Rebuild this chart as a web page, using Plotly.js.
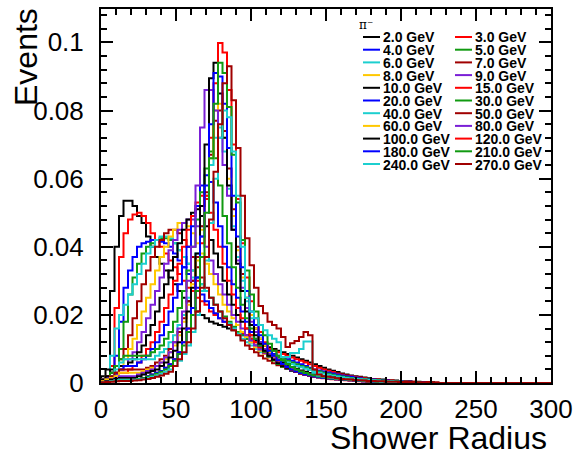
<!DOCTYPE html>
<html><head><meta charset="utf-8">
<script src="https://cdn.plot.ly/plotly-3.0.1.min.js"></script>
<style>body{margin:0;background:#fff}#chart{width:577px;height:456px}</style>
</head><body><div id="chart"></div>
<script>
// Energies (legend labels) and ROOT-like colour cycle
const energies = ['2.0','3.0','4.0','5.0','6.0','7.0','8.0','9.0','10.0','15.0','20.0','30.0','40.0','50.0','60.0','80.0','100.0','120.0','180.0','210.0','240.0','270.0'];
const colors = ['#000000','#ff0000','#0000ff','#119a11','#1ccfcf','#a00000','#ffc800','#7a1fd6',
                '#000000','#ff0000','#0000ff','#119a11','#1ccfcf','#a00000','#ffc800','#7a1fd6',
                '#000000','#ff0000','#0000ff','#119a11','#1ccfcf','#a00000'];
const binWidth = 3; // shower radius bin width

// Normalised event fractions per radius bin (bin i covers [3i, 3i+3))
const e2 = [.002,.004,.027,.040,.049,.0535,.0535,.052,.049,.047,.043,.040,.037,.035,.033,.031,.029,.027,.025,.024,.022,.021,.020,.019,.018,.0175,.017,.0165,.016,.0155,.015,.0145,.014,.013,.0125,.012,.011,.0105,.010,.0095,.009,.0085,.008,.0075,.007,.0065,.006,.0055,.005,.0045,.004,.0036,.0032,.0028,.0025,.0022,.002,.0018,.0016,.0014,.0012,.0011,.001,.0009,.0008,.0007,.0006,.0005,.0005,.0004,.0004,.0003,.0003,.0002];
const e3 = [.001,.002,.005,.022,.037,.044,.048,.0495,.050,.049,.047,.044,.042,.040,.038,.036,.034,.032,.030,.028,.027,.025,.024,.023,.021,.020,.019,.018,.017,.016,.015,.0145,.014,.013,.012,.0115,.011,.010,.0095,.009,.0085,.008,.0075,.007,.0065,.006,.0055,.005,.0045,.004,.0036,.0032,.0028,.0025,.0022,.002,.0018,.0016,.0014,.0012,.0011,.001,.0009,.0008,.0007,.0006,.0005,.0005,.0004,.0004,.0003,.0003,.0002];
const e4 = [.001,.002,.003,.008,.018,.028,.033,.037,.040,.041,.0415,.042,.042,.0415,.041,.040,.038,.036,.034,.032,.030,.028,.026,.024,.022,.0205,.019,.018,.017,.016,.015,.014,.013,.012,.011,.010,.0095,.009,.0085,.008,.0075,.007,.0065,.006,.0055,.005,.0045,.004,.0037,.0034,.0031,.0028,.0025,.0022,.002,.0018,.0016,.0014,.0012,.0011,.001,.0009,.0008,.0007,.0006,.0005,.0005,.0004,.0004,.0003,.0003,.0002];
const e5 = [.001,.002,.003,.005,.010,.018,.026,.031,.035,.038,.040,.041,.042,.0425,.0425,.042,.041,.039,.037,.035,.033,.031,.029,.027,.025,.023,.021,.0195,.018,.0165,.015,.014,.013,.012,.011,.010,.009,.0085,.008,.0075,.007,.0065,.006,.0055,.005,.0046,.0042,.0038,.0034,.003,.0027,.0024,.0021,.0019,.0017,.0015,.0013,.0012,.0011,.001,.0009,.0008,.0007,.0006,.0005,.0005,.0004,.0004,.0003,.0003,.0002];
const e6 = [.001,.002,.008,.016,.020,.023,.026,.029,.032,.035,.038,.040,.042,.043,.043,.0425,.041,.039,.037,.035,.033,.031,.029,.027,.025,.023,.021,.019,.0175,.016,.0145,.013,.012,.011,.010,.009,.0085,.008,.0075,.007,.0065,.006,.0055,.005,.0046,.0042,.0038,.0034,.003,.0027,.0024,.0021,.0019,.0017,.0015,.0013,.0012,.0011,.001,.0009,.0008,.0007,.0006,.0005,.0005,.0004,.0004,.0003,.0003,.0002];
const e7 = [.001,.002,.003,.005,.007,.010,.014,.019,.024,.029,.033,.037,.040,.042,.044,.045,.045,.044,.042,.040,.037,.034,.031,.028,.025,.023,.021,.019,.017,.0155,.014,.0125,.011,.010,.009,.008,.0072,.0065,.0058,.0052,.0047,.0042,.0038,.0034,.003,.0027,.0024,.0021,.0019,.0017,.0015,.0013,.0012,.0011,.001,.0009,.0008,.0007,.0006,.0005,.0005,.0004,.0004,.0003,.0003,.0003,.0002];
const e8 = [.001,.0015,.002,.003,.005,.007,.010,.013,.017,.021,.025,.029,.033,.037,.040,.043,.045,.047,.047,.046,.044,.041,.038,.035,.032,.029,.026,.023,.021,.019,.017,.015,.0135,.012,.0105,.0095,.0085,.0075,.0067,.006,.0054,.0048,.0043,.0038,.0034,.003,.0027,.0024,.0021,.0019,.0017,.0015,.0013,.0012,.0011,.001,.0009,.0008,.0007,.0006,.0005,.0005,.0004,.0004,.0003,.0003,.0002];
const e9 = [.001,.0015,.002,.0025,.004,.005,.007,.009,.012,.015,.019,.023,.027,.031,.035,.039,.042,.045,.047,.048,.048,.046,.043,.040,.036,.032,.029,.026,.023,.020,.018,.016,.014,.0125,.011,.0098,.0087,.0077,.0068,.006,.0053,.0047,.0042,.0037,.0033,.0029,.0026,.0023,.002,.0018,.0016,.0014,.0012,.0011,.001,.0009,.0008,.0007,.0006,.0005,.0005,.0004,.0004,.0003,.0003,.0002];
const e10 = [.001,.002,.004,.005,.005,.005,.006,.007,.009,.011,.014,.017,.021,.025,.029,.033,.037,.041,.045,.048,.050,.051,.049,.046,.042,.038,.034,.030,.026,.023,.020,.018,.016,.014,.0125,.011,.0098,.0087,.0077,.0068,.006,.0053,.0047,.0042,.0037,.0033,.0029,.0026,.0023,.002,.0018,.0016,.0014,.0012,.0011,.001,.0009,.0008,.0007,.0006,.0005,.0005,.0004,.0004,.0003,.0003,.0002];
const e15 = [.0005,.001,.002,.003,.003,.003,.004,.005,.006,.008,.010,.012,.015,.018,.022,.026,.030,.035,.040,.045,.049,.053,.055,.054,.050,.045,.040,.035,.030,.026,.022,.019,.016,.014,.012,.0105,.009,.008,.007,.006,.0053,.0047,.0042,.0037,.0033,.0029,.0026,.0023,.002,.0018,.0016,.0014,.0012,.0011,.001,.0009,.0008,.0007,.0006,.0005,.0005,.0004,.0004,.0003,.0003,.0002];
const e20 = [.0005,.001,.002,.003,.004,.005,.005,.005,.006,.007,.008,.010,.012,.014,.017,.021,.025,.029,.034,.040,.046,.052,.058,.061,.059,.053,.046,.040,.034,.029,.025,.021,.018,.015,.013,.011,.0095,.0082,.007,.006,.0052,.0045,.004,.0035,.0031,.0027,.0024,.0021,.0019,.0017,.0015,.0013,.0012,.0011,.001,.0009,.0008,.0007,.0006,.0005,.0005,.0004,.0004,.0003,.0003,.0002];
const e30 = [.0005,.001,.003,.005,.007,.008,.008,.008,.008,.008,.008,.009,.010,.011,.013,.015,.018,.022,.027,.033,.040,.048,.056,.063,.068,.066,.058,.049,.041,.034,.028,.023,.019,.016,.013,.011,.0092,.0078,.0066,.0056,.0048,.0042,.0036,.0032,.0028,.0025,.0022,.002,.0018,.0016,.0014,.0013,.0012,.0011,.001,.0009,.0008,.0007,.0006,.0005,.0005,.0004,.0004,.0003,.0003,.0002];
const e40 = [.0005,.001,.002,.004,.006,.007,.007,.007,.007,.007,.007,.007,.008,.009,.010,.012,.014,.017,.020,.025,.031,.038,.046,.055,.064,.072,.075,.068,.057,.046,.037,.030,.024,.019,.016,.013,.011,.0092,.0078,.0066,.0056,.0048,.0041,.0035,.003,.0026,.0023,.002,.0018,.0016,.0014,.0013,.0012,.0011,.001,.0009,.0008,.0007,.0006,.0005,.0005,.0004,.0004,.0003,.0003,.0002];
const e50 = [.0005,.001,.002,.003,.004,.004,.004,.004,.004,.004,.0045,.005,.006,.007,.008,.010,.012,.015,.019,.024,.030,.037,.046,.056,.067,.077,.080,.074,.063,.051,.040,.032,.025,.020,.016,.013,.011,.009,.0076,.0064,.0054,.0046,.004,.0034,.003,.0026,.0023,.002,.0018,.0016,.0014,.0013,.0012,.0011,.001,.0009,.0008,.0007,.0006,.0005,.0005,.0004,.0004,.0003,.0003,.0002];
const e60 = [.0005,.001,.0015,.002,.003,.003,.003,.003,.003,.0035,.004,.0045,.005,.006,.007,.009,.011,.014,.018,.023,.029,.036,.045,.055,.066,.080,.082,.072,.060,.049,.039,.031,.025,.020,.016,.013,.011,.009,.0076,.0064,.0054,.0046,.004,.0034,.003,.0026,.0023,.002,.0018,.0016,.0014,.0013,.0012,.0011,.001,.0009,.0008,.0007,.0006,.0005,.0005,.0004,.0004,.0003,.0003,.0002];
const e80 = [.0003,.0006,.001,.0015,.002,.002,.002,.002,.0025,.003,.0035,.004,.005,.006,.0075,.009,.012,.016,.021,.030,.040,.058,.075,.086,.086,.080,.072,.064,.055,.045,.036,.028,.022,.018,.015,.012,.010,.0085,.0072,.006,.005,.0043,.0037,.0032,.0028,.0024,.0021,.0019,.0017,.0015,.0013,.0012,.0011,.001,.0009,.0008,.0007,.0006,.0005,.0005,.0004,.0004,.0003,.0003,.0002];
const e100 = [.0003,.0006,.001,.0012,.0015,.0015,.0015,.0015,.002,.0025,.003,.0035,.004,.005,.006,.0075,.0095,.012,.016,.021,.028,.038,.052,.070,.0895,.094,.085,.072,.058,.045,.035,.027,.021,.017,.014,.0115,.0095,.008,.0068,.0058,.005,.0043,.0037,.0032,.0028,.0024,.0021,.0019,.0017,.0015,.0013,.0012,.0011,.001,.0009,.0008,.0007,.0006,.0005,.0005,.0004,.0004,.0003,.0003,.0002];
const e120 = [.0002,.0004,.0006,.0008,.001,.001,.001,.001,.0012,.0015,.002,.0025,.003,.0035,.0045,.0055,.007,.009,.012,.016,.022,.030,.041,.055,.072,.088,.0998,.097,.086,.070,.054,.041,.031,.024,.019,.015,.012,.0098,.008,.0066,.0055,.0046,.0039,.0033,.0028,.0024,.0021,.0018,.0016,.0014,.0012,.0011,.001,.0009,.0008,.0007,.0006,.0005,.0005,.0004,.0004,.0003,.0003,.0002];
const e180 = [.0002,.0004,.0006,.0008,.001,.001,.001,.001,.0012,.0015,.002,.0025,.003,.0035,.0045,.0055,.007,.009,.012,.016,.022,.031,.043,.058,.076,.091,.090,.082,.069,.055,.043,.034,.027,.021,.017,.014,.0115,.0095,.008,.0067,.0056,.0047,.004,.0034,.0029,.0025,.0022,.0019,.0017,.0015,.0013,.0012,.0011,.001,.0009,.0008,.0007,.0006,.0005,.0005,.0004,.0004,.0003,.0003,.0002];
const e210 = [.0002,.0004,.0006,.0008,.001,.001,.001,.001,.0012,.0014,.0018,.0022,.0027,.0033,.004,.005,.0065,.0085,.011,.015,.020,.027,.037,.050,.066,.082,.094,.091,.081,.067,.053,.042,.033,.026,.021,.017,.014,.0115,.0095,.008,.0067,.0056,.0047,.004,.0034,.0029,.0025,.0022,.0019,.0017,.0015,.0013,.0012,.0011,.001,.0009,.0008,.0007,.0006,.0005,.0005,.0004,.0004,.0003,.0003,.0002];
const e240 = [.0002,.0003,.0005,.0007,.0008,.0008,.0008,.0009,.001,.0012,.0015,.0018,.0022,.0027,.0033,.004,.005,.0065,.0085,.011,.015,.020,.027,.036,.047,.060,.072,.080,.078,.068,.055,.040,.025,.021,.019,.017,.0155,.014,.013,.012,.0076,.0076,.0088,.0088,.010,.0122,.0122,.003,.0022,.0019,.0017,.0015,.0013,.0012,.0011,.001,.0009,.0008,.0007,.0006,.0005,.0005,.0004,.0004,.0003,.0003,.0002];
const e270 = [.0002,.0003,.0004,.0005,.0006,.0006,.0006,.0007,.0008,.001,.0012,.0015,.0018,.0022,.0027,.0033,.005,.007,.009,.012,.016,.021,.028,.037,.048,.062,.076,.088,.093,.083,.069,.055,.0425,.0346,.028,.0226,.0205,.018,.017,.016,.0135,.0106,.0117,.0123,.0135,.015,.014,.004,.0025,.002,.0018,.0016,.0014,.0012,.0011,.001,.0009,.0008,.0007,.0006,.0006,.0005,.0005,.0004,.0004,.0004,.0003,.0003,.0003,.0003,.0002,.0002,.0002,.0002,.0002];

const series = [e2,e3,e4,e5,e6,e7,e8,e9,e10,e15,e20,e30,e40,e50,e60,e80,e100,e120,e180,e210,e240,e270];
const xMax = 300, yMax = 0.1098;

const traces = series.map((vals, k) => {
  const x = [0], y = [0];
  vals.forEach((v, i) => { x.push(i * binWidth); y.push(v); });
  x.push(vals.length * binWidth); y.push(0);
  x.push(xMax); y.push(0);
  return {type:'scatter', mode:'lines', x:x, y:y, name:energies[k] + ' GeV',
          line:{shape:'hv', color:colors[k], width:2}, showlegend:false, hoverinfo:'skip'};
});

// Layout geometry (pixels)
const L = 101, R = 26, T = 9, B = 73, W = 577, H = 456;
const pw = W - L - R, ph = H - T - B;
const px = v => (v - L) / pw;
const py = v => (H - B - v) / ph;
const FONT = 'Liberation Sans, Arial, Helvetica, sans-serif';

const annotations = [], shapes = [];
// Legend (two columns, ROOT TLegend style)
const rowY0 = 37, rowDY = 12.7;
const colLine = [[363, 380], [455, 472]], colText = [382, 474];
energies.forEach((e, k) => {
  const col = k % 2, row = Math.floor(k / 2);
  const yy = rowY0 + row * rowDY;
  shapes.push({type:'line', xref:'paper', yref:'paper', x0:px(colLine[col][0]), x1:px(colLine[col][1]),
               y0:py(yy), y1:py(yy), line:{color:colors[k], width:2}});
  annotations.push({xref:'paper', yref:'paper', x:px(colText[col]), y:py(yy), xanchor:'left', yanchor:'middle',
                    height:11, borderpad:0, valign:'middle',
                    text:e + ' GeV', showarrow:false, font:{family:FONT, size:14, color:'#000', weight:'bold'}});
});
annotations.push({xref:'paper', yref:'paper', x:px(358), y:py(24), xanchor:'left', yanchor:'middle',
                  height:11, borderpad:0,
                  text:'π⁻', showarrow:false, font:{family:'DejaVu Serif, serif', size:12, color:'#000'}});
// Axis titles (ROOT places them at the axis ends)
annotations.push({xref:'paper', yref:'paper', x:px(549), y:py(458), xanchor:'right', yanchor:'bottom',
                  text:'Shower Radius', showarrow:false, font:{family:FONT, size:32, color:'#000'}});
annotations.push({xref:'paper', yref:'paper', x:px(26), y:py(6), xanchor:'center', yanchor:'top', textangle:-90,
                  text:'Events', showarrow:false, font:{family:FONT, size:32, color:'#000'}});

const axisCommon = {showline:true, linecolor:'#000', linewidth:2, mirror:'ticks', ticks:'inside',
                    tickcolor:'#000', tickwidth:2, showgrid:false, zeroline:false,
                    tickfont:{family:FONT, size:26, color:'#000'}};
const layout = {
  width:W, height:H, margin:{l:L, r:R, t:T, b:B}, paper_bgcolor:'#fff', plot_bgcolor:'#fff',
  showlegend:false,
  xaxis:Object.assign({}, axisCommon, {range:[0, xMax], tickvals:[0,50,100,150,200,250,300], ticklen:12,
                      minor:{dtick:10, ticklen:6, ticks:'inside', tickcolor:'#000', tickwidth:2},
                      ticklabelstandoff:2}),
  yaxis:Object.assign({}, axisCommon, {range:[0, yMax], tickvals:[0,0.02,0.04,0.06,0.08,0.1],
                      ticktext:['0','0.02','0.04','0.06','0.08','0.1'], ticklen:12,
                      minor:{dtick:0.004, ticklen:6, ticks:'inside', tickcolor:'#000', tickwidth:2},
                      ticklabelstandoff:10}),
  annotations:annotations, shapes:shapes
};
Plotly.newPlot('chart', traces, layout, {displayModeBar:false, staticPlot:true});
</script></body></html>
